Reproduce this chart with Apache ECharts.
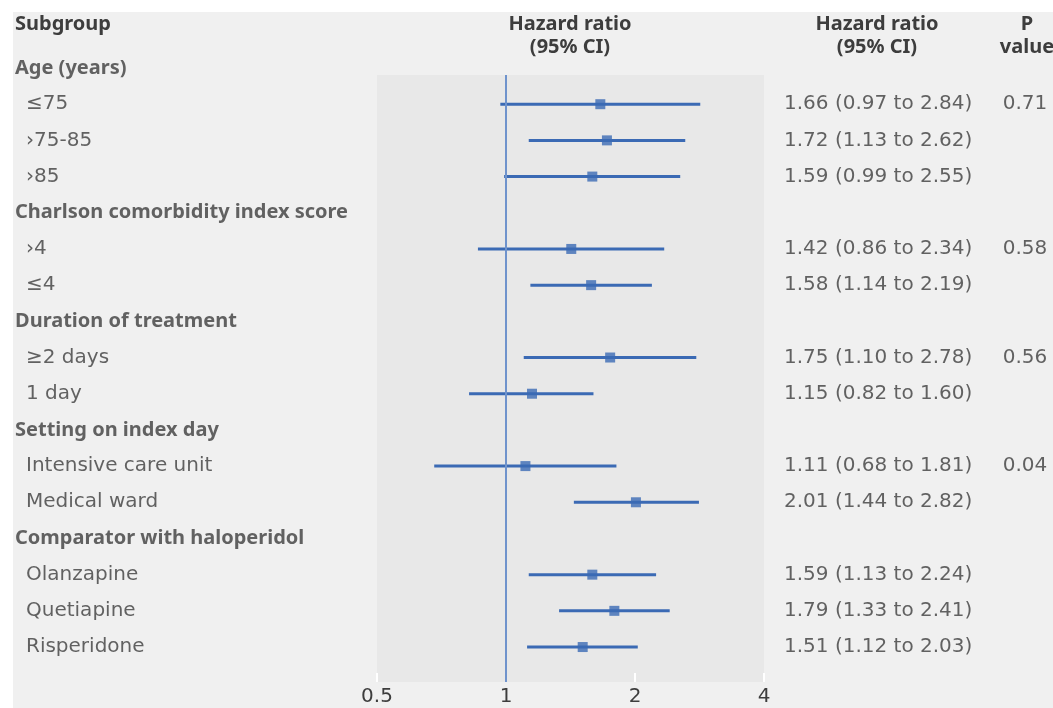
<!DOCTYPE html>
<html><head><meta charset="utf-8">
<script src="https://cdn.jsdelivr.net/npm/echarts@6/dist/echarts.min.js"></script>
<style>html,body{margin:0;padding:0;background:#fff}#c{width:1053px;height:708px}</style>
</head><body><div id="c"></div>
<script>
const rowLabels = ['Age (years)', '≤75', '›75-85', '›85',
  'Charlson comorbidity index score', '›4', '≤4',
  'Duration of treatment', '≥2 days', '1 day',
  'Setting on index day', 'Intensive care unit', 'Medical ward',
  'Comparator with haloperidol', 'Olanzapine', 'Quetiapine', 'Risperidone'];
const rowIsHeading = [true, false, false, false, true, false, false, true, false, false, true, false, false, true, false, false, false];
const hrValues = [null, 1.66, 1.72, 1.59, null, 1.42, 1.58, null, 1.75, 1.15, null, 1.11, 2.01, null, 1.59, 1.79, 1.51];
const ciLower  = [null, 0.97, 1.13, 0.99, null, 0.86, 1.14, null, 1.10, 0.82, null, 0.68, 1.44, null, 1.13, 1.33, 1.12];
const ciUpper  = [null, 2.84, 2.62, 2.55, null, 2.34, 2.19, null, 2.78, 1.60, null, 1.81, 2.82, null, 2.24, 2.41, 2.03];
const pValues  = [null, '0.71', null, null, null, '0.58', null, null, '0.56', null, null, '0.04', null, null, null, null, null];
const xTickValues = [0.5, 1, 2, 4];
const nullValue = 1;

const FONT_B = 'Noto Sans';
const FONT_R = 'DejaVu Sans';
const TXT = '#3d3d3d';
const BLUE = '#3b6ab4';
const FS = 20;

// layout constants (px)
const COL_SUB_HEAD = 15, COL_SUB_ITEM = 26, COL_HR = 784, COL_P = 1025;
const ROW0_Y = 68, ROW_STEP = 36.19, CH = 708;
const rowAt = y => (y - ROW0_Y) / ROW_STEP;

const headData = [], itemData = [], hrTextData = [], pData = [], ciData = [], pointData = [];
rowLabels.forEach((lab, i) => {
  if (rowIsHeading[i]) headData.push({value: [COL_SUB_HEAD, i], name: lab});
  else itemData.push({value: [COL_SUB_ITEM, i], name: lab});
  if (hrValues[i] != null) {
    hrTextData.push({value: [COL_HR, i], name: hrValues[i].toFixed(2) + ' (' + ciLower[i].toFixed(2) + ' to ' + ciUpper[i].toFixed(2) + ')'});
    ciData.push([ciLower[i], ciUpper[i], i]);
    pointData.push([hrValues[i], i]);
  }
  if (pValues[i] != null) pData.push({value: [COL_P, i], name: pValues[i]});
});

function textSeries(data, opts) {
  return {
    type: 'scatter', xAxisIndex: 1, yAxisIndex: 1, symbolSize: 0, silent: true, clip: false,
    data: data,
    label: Object.assign({show: true, position: 'right', distance: 0, formatter: p => p.name,
      fontFamily: FONT_R, fontSize: FS, color: TXT}, opts || {})
  };
}
const boldFont = 'bold ' + FS + 'px "' + FONT_B + '"';

const chart = echarts.init(document.getElementById('c'), null, {renderer: 'canvas'});
chart.setOption({
  animation: false,
  backgroundColor: '#ffffff',
  graphic: [
    {type: 'rect', left: 13, top: 12, shape: {width: 1040, height: 696}, style: {fill: '#f0f0f0'}, z: -10, silent: true},
    {type: 'text', x: 15, y: 14, style: {text: 'Subgroup', font: boldFont, fill: TXT}},
    {type: 'text', x: 570, y: 13, style: {text: 'Hazard ratio\n(95% CI)', font: boldFont, fill: TXT, align: 'center', lineHeight: 23}},
    {type: 'text', x: 877, y: 13, style: {text: 'Hazard ratio\n(95% CI)', font: boldFont, fill: TXT, align: 'center', lineHeight: 23}},
    {type: 'text', x: 1027, y: 13, style: {text: 'P\nvalue', font: boldFont, fill: TXT, align: 'center', lineHeight: 23}}
  ],
  grid: [
    {left: 377, right: 289, top: 75, bottom: 26, show: true, backgroundColor: '#e8e8e8', borderWidth: 0},
    {left: 0, right: 0, top: 0, bottom: 0}
  ],
  xAxis: [
    {type: 'log', logBase: 2, min: 0.5, max: 4, gridIndex: 0,
      axisLine: {show: false}, splitLine: {show: false},
      axisTick: {show: true, inside: true, length: 9, lineStyle: {color: '#ffffff', width: 2}},
      axisLabel: {fontFamily: FONT_R, fontSize: FS, color: TXT, margin: 5,
        formatter: v => (xTickValues.some(t => Math.abs(t - v) < 1e-6) ? String(+v.toFixed(2)) : '')}},
    {type: 'value', min: 0, max: 1053, gridIndex: 1, show: false}
  ],
  yAxis: [
    {type: 'value', inverse: true, min: rowAt(75), max: rowAt(682), gridIndex: 0, show: false},
    {type: 'value', inverse: true, min: rowAt(0), max: rowAt(CH), gridIndex: 1, show: false}
  ],
  series: [
    {type: 'custom', xAxisIndex: 0, yAxisIndex: 0, data: ciData, encode: {x: [0, 1], y: 2}, silent: true, z: 3,
      renderItem: (params, api) => {
        const a = api.coord([api.value(0), api.value(2)]);
        const b = api.coord([api.value(1), api.value(2)]);
        return {type: 'line', shape: {x1: a[0], y1: a[1], x2: b[0], y2: b[1]}, style: {stroke: BLUE, lineWidth: 3}};
      }},
    {type: 'scatter', xAxisIndex: 0, yAxisIndex: 0, data: pointData, symbol: 'rect', symbolSize: 10, silent: true, z: 4,
      itemStyle: {color: BLUE},
      markLine: {silent: true, symbol: 'none', label: {show: false}, animation: false,
        lineStyle: {color: '#6f93cc', width: 2, type: 'solid'}, data: [{xAxis: nullValue}]}},
    textSeries(headData, {fontFamily: FONT_B, fontWeight: 'bold', offset: [0, 0]}),
    textSeries(itemData),
    textSeries(hrTextData),
    textSeries(pData, {position: 'inside', align: 'center'})
  ]
});
</script></body></html>
